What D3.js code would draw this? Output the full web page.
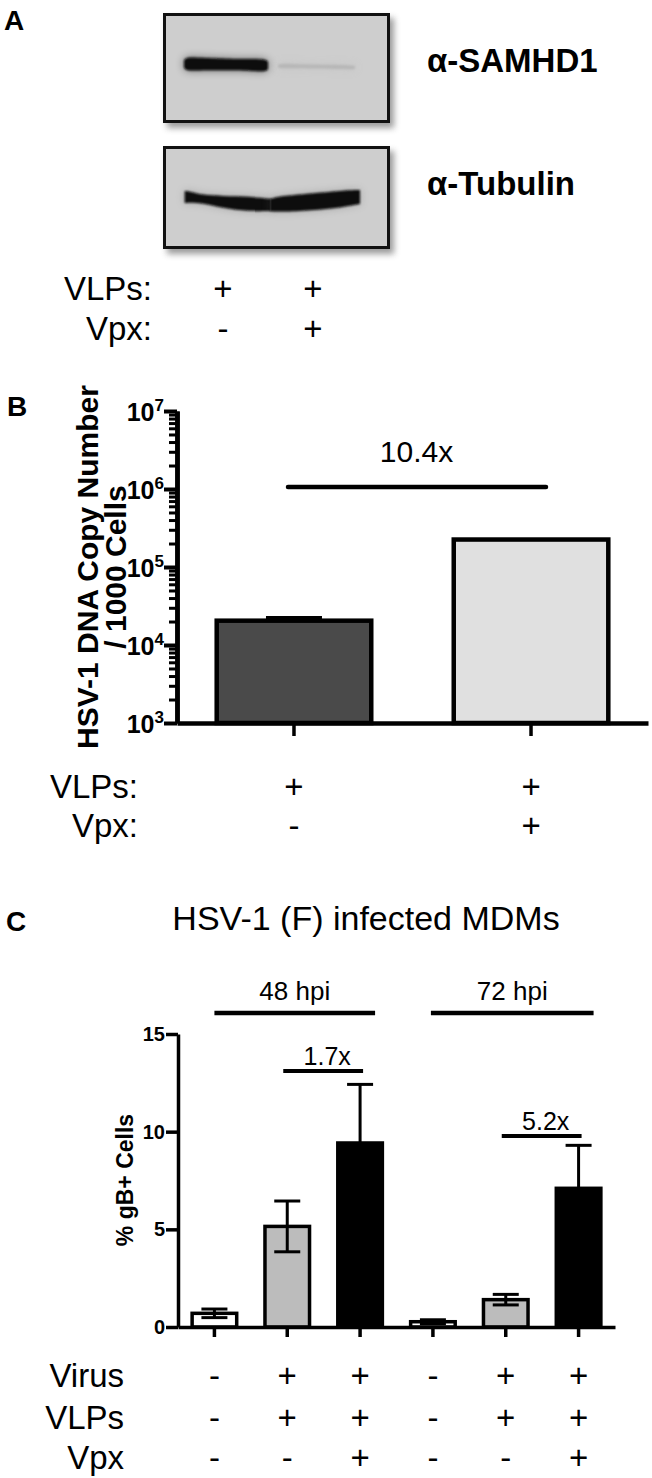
<!DOCTYPE html>
<html><head><meta charset="utf-8">
<script src="https://cdn.jsdelivr.net/npm/d3@7"></script>
<style>
body{margin:0;background:#fff}
svg{display:block}
text{font-family:"Liberation Sans",Arial,Helvetica,sans-serif;fill:#000}
</style>
</head><body>
<svg id="fig" width="652" height="1478"></svg>
<script>
// ---------------- DATA ----------------
// Panel A (western blot)
const blotLanes = ["VLPs", "VLPs + Vpx"];
const samhd1Signal = [1.0, 0.12];
const tubulinSignal = [1.0, 1.0];
const blotVLPs = ["+", "+"];
const blotVpx = ["-", "+"];

// Panel B
const bCategories = ["VLPs", "VLPs + Vpx"];
const bValues = [20500, 225000];
const bErrUpper = [2000, 0];
const bTicks = [1e3, 1e4, 1e5, 1e6, 1e7];
const bTickExp = ["3", "4", "5", "6", "7"];
const bFold = "10.4x";
const bVLPs = ["+", "+"];
const bVpx = ["-", "+"];

// Panel C
const cCategories = ["48 mock", "48 VLPs", "48 VLPs+Vpx", "72 mock", "72 VLPs", "72 VLPs+Vpx"];
const cTreatment = ["mock", "VLPs", "Vpx", "mock", "VLPs", "Vpx"];
const cValues = [0.7, 5.15, 9.42, 0.27, 1.4, 7.1];
const cErr = [0.22, 1.3, 3.0, 0.1, 0.27, 2.2];
const cTicks = [0, 5, 10, 15];
const cGroupLabels = ["48 hpi", "72 hpi"];
const cGroupSpans = [[0, 2], [3, 5]];
const cFoldLabels = ["1.7x", "5.2x"];
const cFoldSpans = [[1, 2], [4, 5]];
const cVirus = ["-", "+", "+", "-", "+", "+"];
const cVLPs = ["-", "+", "+", "-", "+", "+"];
const cVpx = ["-", "-", "+", "-", "-", "+"];

// ---------------- DRAW ----------------
const svg = d3.select("#fig");
const FONT = '"Liberation Sans",Arial,Helvetica,sans-serif';

const defs = svg.append("defs");
defs.append("filter").attr("id", "shadow").attr("x", "-10%").attr("y", "-10%").attr("width", "130%").attr("height", "130%")
  .append("feGaussianBlur").attr("stdDeviation", 3);
defs.append("filter").attr("id", "bandblur").attr("x", "-20%").attr("y", "-100%").attr("width", "140%").attr("height", "300%")
  .append("feGaussianBlur").attr("stdDeviation", 1.3);
defs.append("filter").attr("id", "halo").attr("x", "-20%").attr("y", "-200%").attr("width", "140%").attr("height", "500%")
  .append("feGaussianBlur").attr("stdDeviation", 4);

function panelLetter(t, x, y) {
  svg.append("text").attr("x", x).attr("y", y).attr("font-size", 28).attr("font-weight", "bold").text(t);
}

// ===== Panel A =====
panelLetter("A", 4, 30);
const laneX = d3.scaleBand().domain(blotLanes).range([178, 358]);
const bw = laneX.bandwidth();
const blotBoxes = [{y0: 13, y1: 123, label: "α-SAMHD1", base: 72}, {y0: 146, y1: 249, label: "α-Tubulin", base: 195}];
const blotX0 = 163, blotX1 = 390;
blotBoxes.forEach(b => {
  svg.append("rect").attr("x", blotX0 + 4).attr("y", b.y0 + 5).attr("width", blotX1 - blotX0).attr("height", b.y1 - b.y0)
    .attr("fill", "#7a7a7a").attr("opacity", 0.75).attr("filter", "url(#shadow)");
  svg.append("rect").attr("x", blotX0 + 1.5).attr("y", b.y0 + 1.5).attr("width", blotX1 - blotX0 - 3).attr("height", b.y1 - b.y0 - 3)
    .attr("fill", "#cecece").attr("stroke", "#111").attr("stroke-width", 3);
  svg.append("text").attr("x", 427).attr("y", b.base).attr("font-size", 33).attr("font-weight", "bold").text(b.label);
});

const bandColor = d3.scaleLinear().domain([0, 1]).range(["#cecece", "#0b0b0b"]);
// SAMHD1 band per lane
const samCenter = 64;
blotLanes.forEach((l, i) => {
  const s = samhd1Signal[i];
  const x0 = laneX(l) + 6 + i * 4, x1 = laneX(l) + bw - 3 * i;
  const h = 3 + 9 * s;
  const area = d3.area().curve(d3.curveBasis)
    .x(d => x0 + d[0] * (x1 - x0))
    .y0(d => samCenter + i * 2 - d[1] * h / 2 + d[2])
    .y1(d => samCenter + i * 2 + d[1] * h / 2 + d[2]);
  const prof = [[0, 0.6, 0], [0.03, 1.15, 0], [0.15, 1.05, 0], [0.5, 0.95, 0.5], [0.85, 1.0, 1], [0.98, 1.0, 1.5], [1, 0.6, 1.5]];
  svg.append("path").attr("d", area(prof)).attr("fill", bandColor(s)).attr("opacity", 0.5).attr("filter", "url(#halo)");
  svg.append("path").attr("d", area(prof)).attr("fill", bandColor(s)).attr("filter", "url(#bandblur)");
});

// Tubulin band per lane
const tubProfiles = [
  [[0.03, 197, 6], [0.09, 197, 5.5], [0.22, 199, 4], [0.45, 202, 6], [0.75, 204, 7.5], [0.99, 205, 6]],
  [[0.0, 205, 6], [0.12, 204, 8], [0.45, 202, 8.5], [0.8, 199, 8.5], [1.0, 197, 7]]
];
blotLanes.forEach((l, i) => {
  const s = tubulinSignal[i];
  const area = d3.area().curve(d3.curveBasis)
    .x(d => laneX(l) + d[0] * bw + (i === 1 ? 2 : 4))
    .y0(d => d[1] - d[2] * s)
    .y1(d => d[1] + d[2] * s);
  svg.append("path").attr("d", area(tubProfiles[i])).attr("fill", "#555").attr("opacity", 0.35).attr("filter", "url(#halo)");
  svg.append("path").attr("d", area(tubProfiles[i])).attr("fill", bandColor(s)).attr("filter", "url(#bandblur)");
});

function treatmentRows(labels, rows, xs, labelRight, baselines, size) {
  rows.forEach((r, ri) => {
    svg.append("text").attr("x", labelRight).attr("y", baselines[ri]).attr("text-anchor", "end")
      .attr("font-size", size).text(labels[ri]);
    svg.selectAll(null).data(r).enter().append("text")
      .attr("x", (d, i) => xs[i]).attr("y", baselines[ri]).attr("text-anchor", "middle")
      .attr("font-size", size).text(d => d);
  });
}
treatmentRows(["VLPs:", "Vpx:"], [blotVLPs, blotVpx], blotLanes.map(l => laneX(l) + bw / 2), 152, [300, 340], 33);

// ===== Panel B =====
panelLetter("B", 7, 416);
const xB = d3.scaleBand().domain(bCategories).range([177, 648]).paddingInner(0.329).paddingOuter(0.158);
const yB = d3.scaleLog().domain([1e3, 1e7]).range([723, 411]);
const bFill = d3.scaleOrdinal().domain(bCategories).range(["#4a4a4a", "#e0e0e0"]);

svg.append("g").selectAll("rect").data(bCategories).enter().append("rect")
  .attr("x", d => xB(d) + 2.25).attr("width", xB.bandwidth() - 4.5)
  .attr("y", (d, i) => yB(bValues[i])).attr("height", (d, i) => yB(1e3) - yB(bValues[i]))
  .attr("fill", d => bFill(d)).attr("stroke", "#000").attr("stroke-width", 4.5);
// upper error
bCategories.forEach((c, i) => {
  if (bErrUpper[i] > 0) {
    const cx = xB(c) + xB.bandwidth() / 2;
    svg.append("line").attr("x1", cx - 28).attr("x2", cx + 28)
      .attr("y1", yB(bValues[i] + bErrUpper[i])).attr("y2", yB(bValues[i] + bErrUpper[i]))
      .attr("stroke", "#000").attr("stroke-width", 3);
  }
});

const minorB = [];
[1e3, 1e4, 1e5, 1e6].forEach(d => { for (let m = 2; m <= 9; m++) minorB.push(d * m); });
const gyB = svg.append("g").attr("transform", "translate(177,0)");
gyB.call(d3.axisLeft(yB).tickValues(minorB).tickSize(8).tickSizeOuter(0).tickFormat(""));
gyB.call(g => g.selectAll(".tick line").attr("stroke-width", 3));
const gyB2 = svg.append("g").attr("transform", "translate(177,0)");
gyB2.call(d3.axisLeft(yB).tickValues(bTicks).tickSize(13).tickSizeOuter(0).tickFormat(""));
gyB2.selectAll(".tick line").attr("stroke-width", 4);
[gyB, gyB2].forEach(g => g.select(".domain").attr("stroke-width", 4.5).attr("stroke", "#000"));
gyB.selectAll("line").attr("stroke", "#000");
gyB2.selectAll("line").attr("stroke", "#000");
// tick labels (10 with superscript exponent)
bTicks.forEach((t, i) => {
  const tx = svg.append("text").attr("x", 164).attr("y", yB(t) + 10).attr("text-anchor", "end")
    .attr("font-size", 25).attr("font-weight", "bold");
  tx.append("tspan").text("10");
  tx.append("tspan").attr("font-size", 17).attr("dy", -10).text(bTickExp[i]);
});
const gxB = svg.append("g").attr("transform", "translate(0,723)");
gxB.call(d3.axisBottom(xB).tickSize(13).tickSizeOuter(0).tickFormat(""));
gxB.select(".domain").attr("stroke-width", 4.5).attr("stroke", "#000");
gxB.selectAll(".tick line").attr("stroke-width", 3.5).attr("stroke", "#000");

// fold annotation
{
  const c0 = xB(bCategories[0]) + xB.bandwidth() / 2, c1 = xB(bCategories[1]) + xB.bandwidth() / 2;
  svg.append("line").attr("x1", c0 - 6).attr("x2", c1 + 15).attr("y1", 487).attr("y2", 487)
    .attr("stroke", "#000").attr("stroke-width", 4.5).attr("stroke-linecap", "round");
  svg.append("text").attr("x", (c0 + c1) / 2 + 4).attr("y", 462).attr("text-anchor", "middle")
    .attr("font-size", 30).text(bFold);
}
// y title
svg.append("text").attr("transform", "translate(98,567) rotate(-90)").attr("text-anchor", "middle")
  .attr("font-size", 30).attr("font-weight", "bold").text("HSV-1 DNA Copy Number");
svg.append("text").attr("transform", "translate(126,567) rotate(-90)").attr("text-anchor", "middle")
  .attr("font-size", 30).attr("font-weight", "bold").text("/ 1000 Cells");

treatmentRows(["VLPs:", "Vpx:"], [bVLPs, bVpx], bCategories.map(c => xB(c) + xB.bandwidth() / 2), 138, [798, 837], 33);

// ===== Panel C =====
panelLetter("C", 6, 931);
svg.append("text").attr("x", 366).attr("y", 930).attr("text-anchor", "middle").attr("font-size", 34)
  .text("HSV-1 (F) infected MDMs");

const xC = d3.scaleBand().domain(cCategories).range([178, 615]).paddingInner(0.34).paddingOuter(0.17);
const yC = d3.scaleLinear().domain([0, 15]).range([1327, 1034]);
const cFill = d3.scaleOrdinal().domain(["mock", "VLPs", "Vpx"]).range(["#ffffff", "#bcbcbc", "#000000"]);
const cx = d => xC(d) + xC.bandwidth() / 2;

svg.append("g").selectAll("rect").data(cCategories).enter().append("rect")
  .attr("x", d => xC(d) + 1.75).attr("width", xC.bandwidth() - 3.5)
  .attr("y", (d, i) => yC(cValues[i])).attr("height", (d, i) => yC(0) - yC(cValues[i]))
  .attr("fill", (d, i) => cFill(cTreatment[i])).attr("stroke", "#000").attr("stroke-width", 3.5);

const eg = svg.append("g").attr("stroke", "#000").attr("stroke-width", 3);
cCategories.forEach((c, i) => {
  const x = cx(c), hi = yC(cValues[i] + cErr[i]), lo = yC(Math.max(0, cValues[i] - cErr[i]));
  eg.append("line").attr("x1", x).attr("x2", x).attr("y1", hi).attr("y2", lo);
  eg.append("line").attr("x1", x - 13).attr("x2", x + 13).attr("y1", hi).attr("y2", hi);
  eg.append("line").attr("x1", x - 13).attr("x2", x + 13).attr("y1", lo).attr("y2", lo);
});

const gyC = svg.append("g").attr("transform", "translate(178,0)");
gyC.call(d3.axisLeft(yC).tickValues(cTicks).tickSize(12).tickSizeOuter(0).tickPadding(1));
gyC.select(".domain").attr("stroke-width", 3.5).attr("stroke", "#000");
gyC.selectAll(".tick line").attr("stroke-width", 3.5).attr("stroke", "#000");
gyC.selectAll(".tick text").attr("font-size", 20).attr("font-weight", "bold").attr("font-family", FONT).attr("fill", "#000");

const gxC = svg.append("g").attr("transform", "translate(0,1327)");
gxC.call(d3.axisBottom(xC).tickSize(10).tickSizeOuter(0).tickFormat(""));
gxC.select(".domain").attr("stroke-width", 3.5).attr("stroke", "#000");
gxC.selectAll(".tick line").attr("stroke-width", 3.5).attr("stroke", "#000");

svg.append("text").attr("transform", "translate(133,1180) rotate(-90)").attr("text-anchor", "middle")
  .attr("font-size", 23).attr("font-weight", "bold").text("% gB+ Cells");

// group brackets
cGroupLabels.forEach((lab, k) => {
  const a = cx(cCategories[cGroupSpans[k][0]]), b = cx(cCategories[cGroupSpans[k][1]]);
  const x1 = a - 2 * k, x2 = b + 15;
  svg.append("line").attr("x1", x1).attr("x2", x2).attr("y1", 1013).attr("y2", 1013)
    .attr("stroke", "#000").attr("stroke-width", 4.5);
  svg.append("text").attr("x", (x1 + x2) / 2).attr("y", 1000).attr("text-anchor", "middle")
    .attr("font-size", 26).text(lab);
});
// fold brackets
const foldY = [1071, 1136];
cFoldLabels.forEach((lab, k) => {
  const a = cx(cCategories[cFoldSpans[k][0]]), b = cx(cCategories[cFoldSpans[k][1]]);
  const x1 = a - 4, x2 = b + 3;
  svg.append("line").attr("x1", x1).attr("x2", x2).attr("y1", foldY[k]).attr("y2", foldY[k])
    .attr("stroke", "#000").attr("stroke-width", 4);
  svg.append("text").attr("x", (x1 + x2) / 2 + 4).attr("y", foldY[k] - 6).attr("text-anchor", "middle")
    .attr("font-size", 25).text(lab);
});

treatmentRows(["Virus", "VLPs", "Vpx"], [cVirus, cVLPs, cVpx], cCategories.map(cx), 124, [1387, 1429, 1469], 33);
</script>
</body></html>
